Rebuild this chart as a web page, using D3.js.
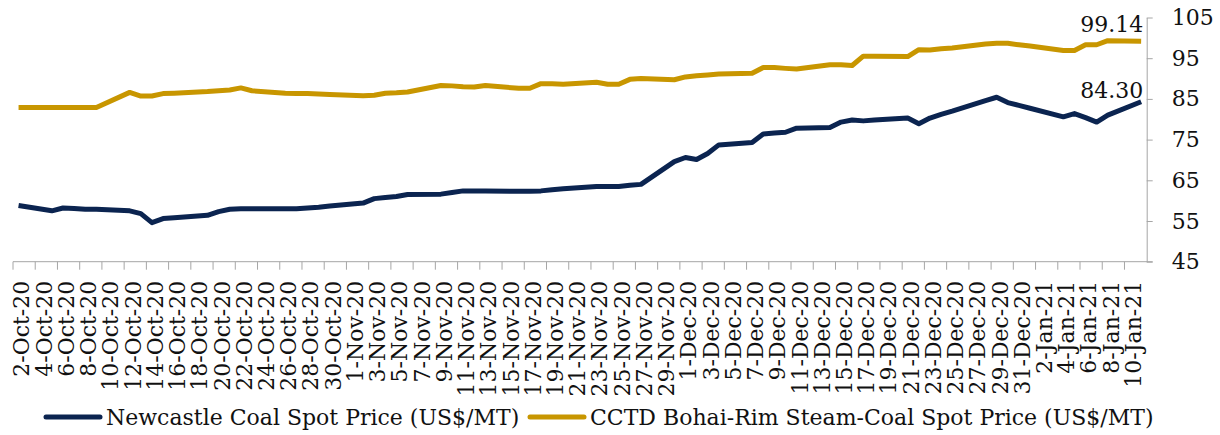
<!DOCTYPE html>
<html>
<head>
<meta charset="utf-8">
<script src="https://cdn.jsdelivr.net/npm/d3@7"></script>
<style>
    body { margin: 0; background: #fff; }
    svg text { font-family: "DejaVu Serif", "Liberation Serif", serif; fill: #111; }
</style>
</head>
<body>
<svg id="chart" width="1220" height="435"></svg>
<script>
// category axis: every calendar day from 2-Oct-20 to 11-Jan-21
const firstDay = new Date(2020, 9, 2)
const lastDay = new Date(2021, 0, 11)
const yTicks = [45, 55, 65, 75, 85, 95, 105]

// observation days (weekdays)
const obsDates = [
    "2-Oct-20",
    "5-Oct-20", "6-Oct-20", "7-Oct-20", "8-Oct-20", "9-Oct-20",
    "12-Oct-20", "13-Oct-20", "14-Oct-20", "15-Oct-20", "16-Oct-20",
    "19-Oct-20", "20-Oct-20", "21-Oct-20", "22-Oct-20", "23-Oct-20",
    "26-Oct-20", "27-Oct-20", "28-Oct-20", "29-Oct-20", "30-Oct-20",
    "2-Nov-20", "3-Nov-20", "4-Nov-20", "5-Nov-20", "6-Nov-20",
    "9-Nov-20", "10-Nov-20", "11-Nov-20", "12-Nov-20", "13-Nov-20",
    "16-Nov-20", "17-Nov-20", "18-Nov-20", "19-Nov-20", "20-Nov-20",
    "23-Nov-20", "24-Nov-20", "25-Nov-20", "26-Nov-20", "27-Nov-20",
    "30-Nov-20", "1-Dec-20", "2-Dec-20", "3-Dec-20", "4-Dec-20",
    "7-Dec-20", "8-Dec-20", "9-Dec-20", "10-Dec-20", "11-Dec-20",
    "14-Dec-20", "15-Dec-20", "16-Dec-20", "17-Dec-20", "18-Dec-20",
    "21-Dec-20", "22-Dec-20", "23-Dec-20", "24-Dec-20", "25-Dec-20",
    "28-Dec-20", "29-Dec-20", "30-Dec-20", "31-Dec-20", "1-Jan-21",
    "4-Jan-21", "5-Jan-21", "6-Jan-21", "7-Jan-21", "8-Jan-21",
    "11-Jan-21"
]

const newcastle = [
    58.8,
    57.5, 58.2, 58.1, 57.9, 57.9,
    57.5, 56.8, 54.6, 55.6, 55.8,
    56.4, 57.3, 57.9, 58.0, 58.0,
    58.0, 58.0, 58.2, 58.4, 58.7,
    59.4, 60.5, 60.8, 61.0, 61.5,
    61.6, 62.0, 62.4, 62.4, 62.4,
    62.3, 62.3, 62.4, 62.7, 62.9,
    63.5, 63.5, 63.5, 63.8, 64.0,
    69.6, 70.6, 70.1, 71.6, 73.7,
    74.3, 76.4, 76.6, 76.8, 77.8,
    78.0, 79.3, 79.8, 79.6, 79.8,
    80.3, 78.9, 80.3, 81.2, 82.0,
    84.6, 85.4, 84.1, 83.4, 82.7,
    80.6, 81.4, 80.4, 79.3, 81.0,
    84.30
]

const cctd = [
    82.9,
    82.9, 82.9, 82.9, 82.9, 82.9,
    86.6, 85.7, 85.7, 86.3, 86.4,
    86.8, 87.0, 87.2, 87.7, 87.0,
    86.4, 86.35, 86.3, 86.2, 86.1,
    85.8, 85.9, 86.4, 86.5, 86.7,
    88.3, 88.2, 88.0, 87.9, 88.3,
    87.6, 87.6, 88.75, 88.7, 88.6,
    89.1, 88.6, 88.6, 89.8, 90.0,
    89.7, 90.4, 90.7, 90.9, 91.1,
    91.3, 92.7, 92.7, 92.5, 92.35,
    93.4, 93.4, 93.2, 95.5, 95.5,
    95.4, 97.1, 97.0, 97.3, 97.5,
    98.5, 98.65, 98.65, 98.3, 98.0,
    96.9, 96.9, 98.3, 98.3, 99.3,
    99.14
]

const seriesNames = ["Newcastle Coal Spot Price (US$/MT)", "CCTD Bohai-Rim Steam-Coal Spot Price (US$/MT)"]
const colors = ["#0b2450", "#c89600"]

const fmt = d3.timeFormat("%-d-%b-%y")
const days = d3.timeDay.range(firstDay, d3.timeDay.offset(lastDay, 1)).map(fmt)

const svg = d3.select("#chart")
const plotLeft = 13, plotRight = 1146.7, plotTop = 17.5, plotBottom = 261.7
const fontSize = "22px"

const x = d3.scaleBand().domain(days).range([plotLeft, plotRight]).padding(0)
const y = d3.scaleLinear().domain([45, 105]).range([plotBottom, plotTop])
const cx = (d) => x(d) + x.bandwidth() / 2

// y axis on the right
const yAxis = svg.append("g")
    .attr("transform", `translate(${plotRight},0)`)
    .call(d3.axisRight(y).tickValues(yTicks).tickSize(6).tickPadding(19).tickSizeOuter(0))
yAxis.select(".domain").attr("stroke", "#a6a6a6")
yAxis.selectAll(".tick line").attr("stroke", "#a6a6a6")
yAxis.selectAll(".tick text")
    .style("font-size", fontSize)
    .style("font-family", '"DejaVu Serif", serif')
    .attr("fill", "#111")

// x axis: ticks on every 2nd day boundary
const tickDays = days.filter((d, i) => i % 2 == 0)
const xAxis = svg.append("g")
xAxis.append("line")
    .attr("x1", plotLeft).attr("x2", plotRight + 6)
    .attr("y1", plotBottom).attr("y2", plotBottom)
    .attr("stroke", "#a6a6a6")
xAxis.selectAll("line.tick")
    .data(tickDays)
    .enter()
    .append("line")
    .attr("class", "tick")
    .attr("x1", (d) => x(d)).attr("x2", (d) => x(d))
    .attr("y1", plotBottom).attr("y2", plotBottom + 8)
    .attr("stroke", "#a6a6a6")
xAxis.selectAll("text")
    .data(tickDays)
    .enter()
    .append("text")
    .attr("transform", (d) => `translate(${cx(d) + 3},${plotBottom + 19}) rotate(-90)`)
    .attr("text-anchor", "end")
    .attr("dy", "0.36em")
    .style("font-size", fontSize)
    .text((d) => d)

// lines
const line = d3.line()
    .x((d) => cx(d.date))
    .y((d) => y(d.value))

const series = [newcastle, cctd].map((vals, k) => ({
    name: seriesNames[k],
    color: colors[k],
    points: obsDates.map((dt, i) => ({ date: dt, value: vals[i] })).filter((p) => p.value != null),
}))

svg.append("g")
    .selectAll("path")
    .data(series)
    .enter()
    .append("path")
    .attr("d", (s) => line(s.points))
    .attr("fill", "none")
    .attr("stroke", (s) => s.color)
    .attr("stroke-width", 5)
    .attr("stroke-linejoin", "round")

// end value labels
const labelOffset = [-4, -9]
svg.append("g")
    .selectAll("text")
    .data(series)
    .enter()
    .append("text")
    .attr("x", (s) => cx(s.points[s.points.length - 1].date) + 2)
    .attr("y", (s, k) => y(s.points[s.points.length - 1].value) + labelOffset[k])
    .attr("text-anchor", "end")
    .style("font-size", fontSize)
    .text((s) => d3.format(".2f")(s.points[s.points.length - 1].value))

// legend
const legendX = [46, 530]
const legend = svg.append("g")
    .selectAll("g")
    .data(series)
    .enter()
    .append("g")
    .attr("transform", (s, k) => `translate(${legendX[k]},417)`)
legend.append("line")
    .attr("x1", 0).attr("x2", 54)
    .attr("stroke", (s) => s.color)
    .attr("stroke-width", 5)
    .attr("stroke-linecap", "round")
legend.append("text")
    .attr("x", 60)
    .attr("dy", "0.35em")
    .style("font-size", fontSize)
    .text((s) => s.name)
</script>
</body>
</html>
